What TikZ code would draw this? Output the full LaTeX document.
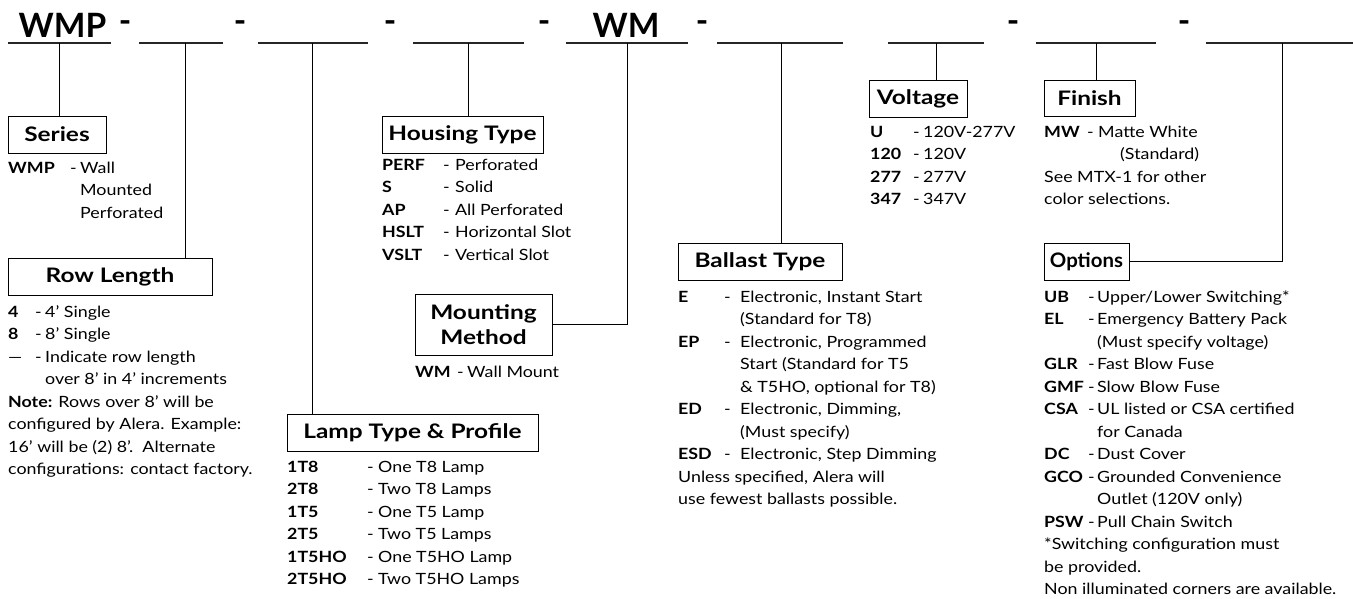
\documentclass[tikz,border=0pt]{standalone}
\usepackage{fontspec}
\usepackage{array}
\setmainfont{Lato}[FakeStretch=1.15, BoldFeatures={FakeStretch=1.15}]
\newfontfamily\topfont{Lato}
\newfontfamily\titlefont{Lato}[FakeStretch=1.22]
\newfontfamily\titlefontn{Lato}[FakeStretch=1.02]
\newcolumntype{B}[1]{>{\bfseries}p{#1}}
\newcommand{\mc}[1]{\multicolumn{3}{@{}l@{}}{#1}}
\begin{document}
\begin{tikzpicture}[x=1pt,y=-1pt,
  ul/.style={line width=1.6pt, draw=black!85},
  conn/.style={line width=0.9pt},
  titlebox/.style={draw, line width=0.9pt, font=\titlefont\bfseries\fontsize{20}{22}\selectfont, inner sep=0pt, minimum height=37pt, align=center},
  blk/.style={anchor=base west, inner sep=0pt, font=\fontsize{15.5}{22.5}\selectfont},
  big/.style={font=\topfont\bfseries\fontsize{33.5}{36}\selectfont, anchor=base, inner sep=0pt},
  bigdash/.style={font=\topfont\bfseries\fontsize{33.5}{36}\selectfont, anchor=center, inner sep=0pt}
]
\useasboundingbox (0,0) rectangle (1353,598);

% ---- top code row ----
\node[big] (wmp) at (62.5,37) {WMP};
\node[big] (wm) at (626,37) {WM};
\foreach \i/\x in {1/125,2/240,3/390,4/544,5/702,6/1013,7/1184}
  \node[bigdash] (d\i) at (\x,27) {-};

\foreach \i/\a/\b in {1/8/111,2/139/223,3/258/368,4/413/524,5/566/688,6/717/843,7/888/984,8/1036/1156,9/1206/1353}{
  \coordinate (u\i a) at (\a,43);
  \coordinate (u\i b) at (\b,43);
  \draw[ul] (u\i a) -- (u\i b);
}
\coordinate (t1) at (59,43);
\coordinate (t2) at (185,43);
\coordinate (t3) at (312,43);
\coordinate (t4) at (468,43);
\coordinate (t5) at (627,43);
\coordinate (t6) at (781,43);
\coordinate (t7) at (936,43);
\coordinate (t8) at (1096,43);
\coordinate (t9) at (1282,43);

% ---- title boxes ----
\node[titlebox, minimum width=98pt] (series) at (57,134.5) {Series};
\node[titlebox, minimum width=204pt] (rowlen) at (110,276.5) {Row Length};
\node[titlebox, minimum width=161pt] (housing) at (462.5,134.5) {Housing Type};
\node[titlebox, minimum width=137pt, minimum height=61pt, font=\titlefont\bfseries\fontsize{20}{25}\selectfont] (mount) at (483.5,324.5) {Mounting\\Method};
\node[titlebox, minimum width=251pt] (lamp) at (412.5,432.5) {Lamp Type \& Profile};
\node[titlebox, minimum width=164pt] (ballast) at (760,261.5) {Ballast Type};
\node[titlebox, minimum width=98pt] (voltage) at (918,98.5) {Voltage};
\node[titlebox, minimum width=91pt, minimum height=36pt] (finish) at (1089.5,98) {Finish};
\node[titlebox, minimum width=85pt, font=\titlefontn\bfseries\fontsize{20}{22}\selectfont] (options) at (1086.5,261.5) {Options};

% ---- connectors ----
\draw[conn] (t1) -- (t1 |- series.north);
\draw[conn] (t2) -- (t2 |- rowlen.north);
\draw[conn] (t3) -- (t3 |- lamp.north);
\draw[conn] (t4) -- (t4 |- housing.north);
\draw[conn] (t5) |- (mount.east);
\draw[conn] (t6) -- (t6 |- ballast.north);
\draw[conn] (t7) -- (t7 |- voltage.north);
\draw[conn] (t8) -- (t8 |- finish.north);
\draw[conn] (t9) |- (options.east);

% ---- text blocks ----
\node[blk] (seriestxt) at (8,173) {\begin{tabular}[t]{@{}B{62pt}@{}p{10pt}@{}l@{}}
WMP & - & Wall\\ & & Mounted\\ & & Perforated
\end{tabular}};

\node[blk] (rowtxt) at (8,317) {\begin{tabular}[t]{@{}B{27pt}@{}p{10pt}@{}l@{}}
4 & - & 4' Single\\
8 & - & 8' Single\\
\mdseries\hspace{0pt}— & - & Indicate row length\\
 & & over 8' in 4' increments\\
\mc{\textbf{Note:} Rows over 8' will be}\\
\mc{configured by Alera. Example:}\\
\mc{16’ will be (2) 8'.\ \ Alternate}\\
\mc{configurations: contact factory.}
\end{tabular}};

\node[blk] (housingtxt) at (382,170) {\begin{tabular}[t]{@{}B{61pt}@{}p{12pt}@{}l@{}}
PERF & - & Perforated\\
S & - & Solid\\
AP & - & All Perforated\\
HSLT & - & Horizontal Slot\\
VSLT & - & Vertical Slot
\end{tabular}};

\node[blk] (mounttxt) at (415,377) {\begin{tabular}[t]{@{}B{42pt}@{}p{10pt}@{}l@{}}
WM & - & Wall Mount
\end{tabular}};

\node[blk] (lamptxt) at (287,472) {\begin{tabular}[t]{@{}B{80pt}@{}p{11pt}@{}l@{}}
1T8 & - & One T8 Lamp\\
2T8 & - & Two T8 Lamps\\
1T5 & - & One T5 Lamp\\
2T5 & - & Two T5 Lamps\\
1T5HO & - & One T5HO Lamp\\
2T5HO & - & Two T5HO Lamps
\end{tabular}};

\node[blk] (ballasttxt) at (678,302) {\begin{tabular}[t]{@{}B{46pt}@{}p{16pt}@{}l@{}}
E & - & Electronic, Instant Start\\
 & & (Standard for T8)\\
EP & - & Electronic, Programmed\\
 & & Start (Standard for T5\\
 & & \& T5HO, optional for T8)\\
ED & - & Electronic, Dimming,\\
 & & (Must specify)\\
ESD & - & Electronic, Step Dimming\\
\mc{Unless specified, Alera will}\\
\mc{use fewest ballasts possible.}
\end{tabular}};

\node[blk] (voltagetxt) at (870,137) {\begin{tabular}[t]{@{}B{43pt}@{}p{10pt}@{}l@{}}
U & - & 120V-277V\\
120 & - & 120V\\
277 & - & 277V\\
347 & - & 347V
\end{tabular}};

\node[blk] (finishtxt) at (1044,137) {\begin{tabular}[t]{@{}B{43pt}@{}p{11pt}@{}l@{}}
MW & - & Matte White\\
 & & \hspace{22pt}(Standard)\\
\mc{See MTX-1 for other}\\
\mc{color selections.}
\end{tabular}};

\node[blk] (optionstxt) at (1044,302) {\begin{tabular}[t]{@{}B{44pt}@{}p{9pt}@{}l@{}}
UB & - & Upper/Lower Switching*\\
EL & - & Emergency Battery Pack\\
 & & (Must specify voltage)\\
GLR & - & Fast Blow Fuse\\
GMF & - & Slow Blow Fuse\\
CSA & - & UL listed or CSA certified\\
 & & for Canada\\
DC & - & Dust Cover\\
GCO & - & Grounded Convenience\\
 & & Outlet (120V only)\\
PSW & - & Pull Chain Switch\\
\mc{*Switching configuration must}\\
\mc{be provided.}\\
\mc{Non illuminated corners are available.}
\end{tabular}};
\end{tikzpicture}
\end{document}
